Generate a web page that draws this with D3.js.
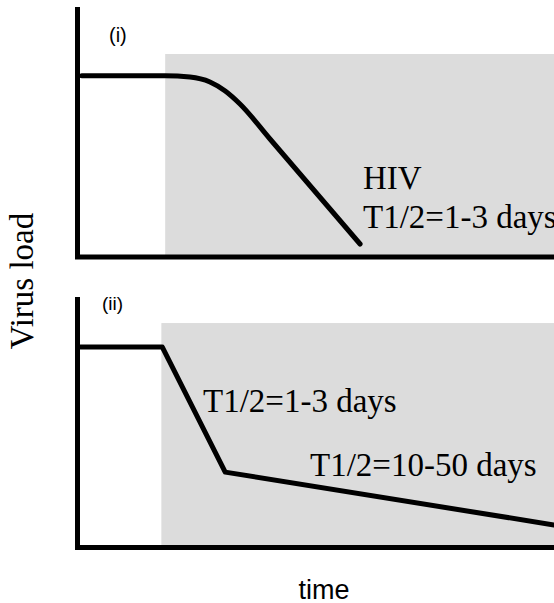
<!DOCTYPE html>
<html>
<head>
<meta charset="utf-8">
<script src="https://cdn.jsdelivr.net/npm/d3@7"></script>
<style>
  html, body { margin: 0; padding: 0; background: #fff; }
  svg { display: block; }
</style>
</head>
<body>
<script>
// ---- data (arbitrary units: time 0-100, virus load 0-100) ----
const treatmentStart = [18.4, 17.6];           // panel (i), panel (ii)
const shadeTop = [81.2, 89.6];                  // top of shaded treatment window
const panelLabels = ["(i)", "(ii)"];

// panel (i): HIV single-phase decay
const hivTime = [0.9, 18.4, 23.6, 27.8, 31.0, 34.1, 40.4, 46.7, 59.3];
const hivLoad = [72.5, 72.5, 72.0, 70.0, 66.4, 61.2, 47.2, 33.2, 5.2];

// panel (ii): biphasic decay
const biTime = [0.6, 17.8, 31.0, 100];
const biLoad = [80.0, 80.0, 30.1, 9.0];

const annotations1 = ["HIV", "T1/2=1-3 days"];
const annotations2 = ["T1/2=1-3 days", "T1/2=10-50 days"];
const xLabel = "time";
const yLabel = "Virus load";

// ---- layout ----
const W = 554, H = 603;
const svg = d3.select("body").append("svg").attr("width", W).attr("height", H);

const x = d3.scaleLinear().domain([0, 100]).range([77.5, 554]);
const y1 = d3.scaleLinear().domain([0, 100]).range([257, 7]);
const y2 = d3.scaleLinear().domain([0, 100]).range([547.5, 297]);

const gray = "#dcdcdc";

function panel(yS, start, top, times, loads, curve) {
  const g = svg.append("g");
  g.append("rect")
    .attr("x", x(start)).attr("y", yS(top))
    .attr("width", x(100) - x(start)).attr("height", yS(0) - yS(top))
    .attr("fill", gray);
  const pts = times.map((t, i) => [t, loads[i]]);
  g.append("path")
    .datum(pts)
    .attr("d", d3.line().x(d => x(d[0])).y(d => yS(d[1])).curve(curve))
    .attr("fill", "none").attr("stroke", "#000").attr("stroke-width", 5)
    .attr("stroke-linecap", "round").attr("stroke-linejoin", "round");
  // axes (no ticks)
  const p = d3.path();
  p.moveTo(x(0), yS(100));
  p.lineTo(x(0), yS(0));
  p.lineTo(x(100), yS(0));
  g.append("path").attr("d", p.toString())
    .attr("fill", "none").attr("stroke", "#000").attr("stroke-width", 5)
    .attr("stroke-linejoin", "miter");
  return g;
}

const g1 = panel(y1, treatmentStart[0], shadeTop[0], hivTime, hivLoad, d3.curveMonotoneX);
const g2 = panel(y2, treatmentStart[1], shadeTop[1], biTime, biLoad, d3.curveLinear);

const serif = "'Liberation Serif', 'Times New Roman', serif";
const sans = "'Liberation Sans', Arial, sans-serif";

// panel labels
svg.append("text").attr("x", 109).attr("y", 42)
  .attr("font-family", sans).attr("font-size", 20).text(panelLabels[0]);
svg.append("text").attr("x", 102).attr("y", 310)
  .attr("font-family", sans).attr("font-size", 19).text(panelLabels[1]);

// annotations
svg.append("text").attr("x", 363).attr("y", 189)
  .attr("font-family", serif).attr("font-size", 33).text(annotations1[0]);
svg.append("text").attr("x", 363).attr("y", 228)
  .attr("font-family", serif).attr("font-size", 33).text(annotations1[1]);
svg.append("text").attr("x", 203).attr("y", 412)
  .attr("font-family", serif).attr("font-size", 33).text(annotations2[0]);
svg.append("text").attr("x", 310).attr("y", 476)
  .attr("font-family", serif).attr("font-size", 33).text(annotations2[1]);

// axis titles
svg.append("text").attr("x", 324).attr("y", 599)
  .attr("text-anchor", "middle")
  .attr("font-family", sans).attr("font-size", 27).text(xLabel);
svg.append("text")
  .attr("transform", "translate(33,281) rotate(-90)")
  .attr("text-anchor", "middle")
  .attr("font-family", serif).attr("font-size", 33).text(yLabel);
</script>
</body>
</html>
